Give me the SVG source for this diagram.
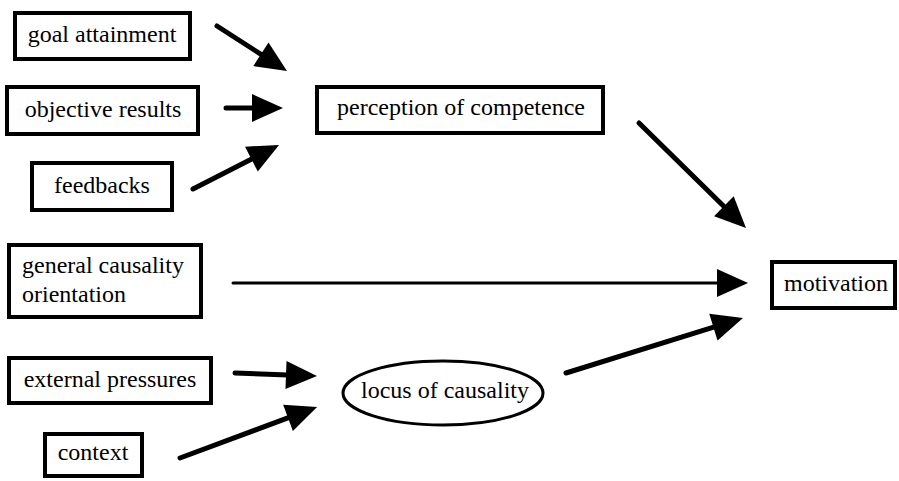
<svg xmlns="http://www.w3.org/2000/svg" width="899" height="481" viewBox="0 0 899 481">
<defs>
<style>
.box{fill:#fff;stroke:#000;stroke-width:4}
text{font-family:'Liberation Serif','Times New Roman',serif;font-size:24px;fill:#000}
.c{text-anchor:middle}
.ln{stroke:#000;stroke-width:5;fill:none;stroke-linecap:round}
.thin{stroke-width:3}
</style>
<marker id="ah" markerUnits="userSpaceOnUse" markerWidth="34" markerHeight="30" refX="2" refY="14" orient="auto" overflow="visible">
<path d="M0,0 L31,14 L0,28 z" fill="#000"/>
</marker>
</defs>
<rect width="899" height="481" fill="#fff"/>
<g id="connectors">
<line class="ln" x1="217" y1="26" x2="262.6" y2="55.4" marker-end="url(#ah)"/>
<line class="ln" x1="226" y1="108" x2="254" y2="108" marker-end="url(#ah)"/>
<line class="ln" x1="193" y1="189" x2="253.2" y2="158.2" marker-end="url(#ah)"/>
<line class="ln" x1="639" y1="123" x2="725.3" y2="207.7" marker-end="url(#ah)"/>
<line class="ln thin" x1="233" y1="283" x2="719" y2="283" marker-end="url(#ah)"/>
<line class="ln" x1="566" y1="373" x2="715.3" y2="326.6" marker-end="url(#ah)"/>
<line class="ln" x1="235" y1="373" x2="288" y2="375" marker-end="url(#ah)"/>
<line class="ln" x1="180" y1="458" x2="289.9" y2="417.2" marker-end="url(#ah)"/>
</g>
<g id="goal-attainment"><rect class="box" x="15" y="13" width="175" height="46"/><text class="c" x="102" y="42">goal attainment</text></g>
<g id="objective-results"><rect class="box" x="7" y="87" width="191" height="47"/><text class="c" x="103" y="117">objective results</text></g>
<g id="feedbacks"><rect class="box" x="32" y="163" width="140" height="47"/><text class="c" x="102" y="193">feedbacks</text></g>
<g id="perception-of-competence"><rect class="box" x="317" y="87" width="286" height="46"/><text class="c" x="461" y="115">perception of competence</text></g>
<g id="motivation"><rect class="box" x="772" y="262" width="123" height="46"/><text class="c" x="836" y="291">motivation</text></g>
<g id="general-causality-orientation"><rect class="box" x="9" y="245" width="192" height="72"/><text x="22" y="273">general causality</text><text x="22" y="302">orientation</text></g>
<g id="external-pressures"><rect class="box" x="9" y="358" width="202" height="45"/><text class="c" x="110" y="387">external pressures</text></g>
<g id="context"><rect class="box" x="45" y="434" width="97" height="42"/><text class="c" x="93" y="460">context</text></g>
<g id="locus-of-causality"><ellipse cx="443" cy="393" rx="100" ry="32" fill="#fff" stroke="#000" stroke-width="3"/><text class="c" x="445" y="398">locus of causality</text></g>
</svg>
